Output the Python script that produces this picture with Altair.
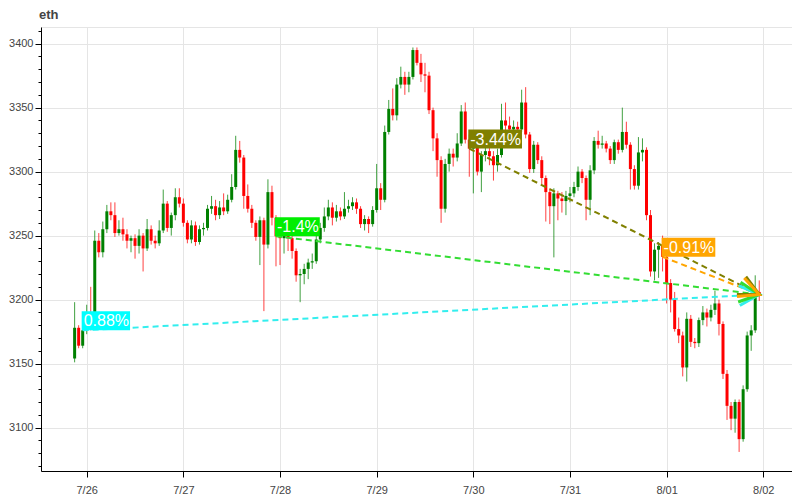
import math
import altair as alt
import pandas as pd

# ---------------- data (hourly ETH candles, 2024-07-25 21:00 .. 2024-08-01 23:00) ----------------
chart_title = ["eth"]
first_time = "2024-07-25 21:00"

opens = [3154, 3178, 3164,
         3176, 3181, 3179, 3246, 3237, 3255, 3269, 3266, 3252, 3255, 3251, 3246, 3248, 3242, 3250, 3240, 3255, 3246, 3244, 3254, 3275, 3256, 3266, 3280,
         3275, 3260, 3247, 3258, 3245, 3255, 3256, 3271, 3273, 3266, 3272, 3269, 3278, 3288, 3317, 3311, 3281, 3271, 3260, 3249, 3262, 3243, 3284, 3264,
         3249.5, 3248, 3251, 3248, 3238, 3219, 3220, 3224, 3229, 3230, 3247, 3256, 3265, 3272, 3264, 3269, 3265, 3271, 3273, 3276, 3271, 3259, 3263, 3259,
         3270, 3287, 3278, 3331, 3349, 3344, 3368, 3374, 3368, 3374, 3395, 3385, 3376, 3375, 3348, 3326, 3309, 3271, 3306, 3314, 3311, 3322, 3347, 3325,
         3318, 3322, 3300, 3313, 3316, 3312, 3305, 3313, 3340, 3336, 3333, 3335, 3333, 3354, 3329, 3302, 3321, 3309, 3295, 3284, 3273, 3283, 3279, 3277,
         3281, 3283, 3288, 3300, 3295, 3278, 3301, 3324, 3321, 3322, 3318, 3309, 3323, 3317, 3331, 3321, 3302, 3289, 3315, 3317, 3266, 3222, 3239, 3242,
         3233.4, 3213, 3200, 3177, 3172, 3147, 3185, 3167, 3166, 3184, 3190, 3186, 3192, 3197, 3181, 3142, 3117, 3107, 3120, 3091, 3130, 3172, 3176, 3206]

closes = [3178, 3164, 3176,
          3181, 3179, 3246, 3237, 3255, 3269, 3266, 3252, 3255, 3251, 3246, 3248, 3242, 3250, 3240, 3255, 3246, 3244, 3254, 3275, 3256, 3266, 3280, 3275,
          3260, 3247, 3258, 3245, 3255, 3256, 3271, 3273, 3266, 3272, 3269, 3278, 3288, 3317, 3311, 3281, 3271, 3260, 3249, 3262, 3243, 3284, 3264, 3249.5,
          3248, 3251, 3248, 3238, 3219, 3220, 3224, 3229, 3230, 3247, 3256, 3265, 3272, 3264, 3269, 3265, 3271, 3273, 3276, 3271, 3259, 3263, 3259, 3270,
          3287, 3278, 3331, 3349, 3344, 3368, 3374, 3368, 3374, 3395, 3385, 3376, 3375, 3348, 3326, 3309, 3271, 3306, 3314, 3311, 3322, 3347, 3325, 3318,
          3322, 3300, 3313, 3316, 3312, 3305, 3313, 3340, 3336, 3333, 3335, 3333, 3354, 3329, 3302, 3321, 3309, 3295, 3284, 3273, 3283, 3279, 3277, 3281,
          3283, 3288, 3300, 3295, 3278, 3301, 3324, 3321, 3322, 3318, 3309, 3323, 3317, 3331, 3321, 3302, 3289, 3315, 3317, 3266, 3222, 3239, 3242, 3233.4,
          3213, 3200, 3177, 3172, 3147, 3185, 3167, 3166, 3184, 3190, 3186, 3192, 3197, 3181, 3142, 3117, 3107, 3120, 3091, 3130, 3172, 3176, 3206, 3204]

highs = [3198, 3180, 3190,
         3196, 3210, 3254, 3252, 3261, 3274, 3276, 3276, 3262, 3264, 3255, 3250, 3251, 3255, 3252, 3263, 3258, 3250, 3262, 3286, 3277, 3268, 3287, 3287,
         3279, 3262, 3262, 3261, 3258, 3260, 3274, 3281, 3278, 3277, 3283, 3282, 3298, 3328, 3324, 3313, 3290, 3274, 3262, 3265, 3264, 3294, 3289, 3266,
         3256, 3254, 3253, 3250, 3240, 3224, 3228, 3232, 3236, 3250, 3260, 3272, 3278, 3276, 3274, 3272, 3284, 3278, 3280, 3279, 3273, 3266, 3265, 3273,
         3306, 3291, 3336, 3356, 3365, 3373, 3382, 3378, 3378, 3397, 3397, 3392, 3385, 3378, 3350, 3330, 3312, 3310, 3318, 3318, 3330, 3352, 3354, 3329,
         3328, 3324, 3316, 3322, 3320, 3316, 3318, 3353, 3354, 3343, 3340, 3339, 3364, 3366, 3331, 3324, 3323, 3312, 3297, 3287, 3287, 3285, 3284, 3285,
         3288, 3292, 3304, 3302, 3297, 3305, 3327, 3332, 3328, 3324, 3320, 3325, 3325, 3350, 3339, 3323, 3305, 3327, 3326, 3319, 3270, 3244, 3245, 3250,
         3236, 3216, 3206, 3186, 3175, 3190, 3188, 3170, 3186, 3195, 3193, 3196, 3207, 3200, 3183, 3145, 3120, 3122, 3122, 3133, 3175, 3180, 3219, 3215]

lows = [3151, 3162, 3162,
        3173, 3176, 3178, 3233, 3233, 3252, 3262, 3249, 3250, 3246, 3240, 3237, 3232, 3236, 3222, 3238, 3243, 3240, 3242, 3252, 3253, 3250, 3262, 3272,
        3257, 3244, 3244, 3242, 3243, 3250, 3254, 3267, 3262, 3263, 3266, 3267, 3276, 3286, 3307, 3271, 3268, 3256, 3246, 3227, 3191, 3240, 3258, 3226,
        3227, 3236, 3238, 3232, 3214, 3198, 3212, 3216, 3224, 3228, 3244, 3253, 3262, 3258, 3261, 3262, 3263, 3268, 3270, 3267, 3256, 3254, 3252, 3257,
        3268, 3270, 3276, 3329, 3340, 3340, 3365, 3360, 3362, 3372, 3383, 3370, 3362, 3345, 3316, 3296, 3260, 3268, 3300, 3304, 3308, 3320, 3322, 3296,
        3283, 3297, 3284, 3308, 3305, 3293, 3300, 3311, 3332, 3329, 3329, 3328, 3331, 3326, 3299, 3299, 3306, 3290, 3261, 3259, 3233, 3262, 3268, 3266,
        3276, 3280, 3285, 3291, 3262, 3266, 3298, 3318, 3318, 3315, 3306, 3306, 3314, 3315, 3318, 3286, 3286, 3286, 3308, 3262, 3218, 3215, 3217, 3222,
        3197, 3190, 3175, 3166, 3140, 3136, 3163, 3162, 3163, 3180, 3179, 3183, 3188, 3172, 3138, 3106, 3098, 3096, 3081, 3089, 3128, 3160, 3174, 3199]

# change annotations: start candle -> last candle
mark_times = ["2024-07-25 23:00", "2024-07-27 23:00", "2024-07-29 23:00", "2024-07-31 23:00"]
mark_texts = ["0.88%", "-1.4%", "-3.44%", "-0.91%"]

# ---------------- styling ----------------
mark_colors = ["#00FFFF", "#00EE00", "#808000", "#FFA500"]
line_colors = ["#33EEEE", "#33DD33", "#808000", "#FFA500"]
UP, DOWN = "#008000", "#FF0000"
FONT = "Liberation Sans"
W, H = 751, 444
x_lo_s, x_hi_s = "2024-07-25 12:39", "2024-08-02 07:08"
x_lo = alt.DateTime(year=2024, month=7, date=25, hours=12, minutes=39)
x_hi = alt.DateTime(year=2024, month=8, date=2, hours=7, minutes=8)
x_span_h = (pd.Timestamp(x_hi_s) - pd.Timestamp(x_lo_s)).total_seconds() / 3600
y_lo, y_hi = 3066.1, 3413.0

times = pd.date_range(first_time, periods=len(closes), freq="h")
df = pd.DataFrame({"t": times.strftime("%Y-%m-%dT%H:%M:%S"),
                   "open": opens, "close": closes, "high": highs, "low": lows})
df["dir"] = ["up" if c >= o else "down" for o, c in zip(opens, closes)]

end_t = times[-1]
end_v = closes[-1]
tindex = {t.strftime("%Y-%m-%d %H:%M"): i for i, t in enumerate(times)}
ann = pd.DataFrame({
    "t": [pd.Timestamp(s).strftime("%Y-%m-%dT%H:%M:%S") for s in mark_times],
    "v": [closes[tindex[s]] for s in mark_times],
    "txt": mark_texts,
    "box": mark_colors,
    "lc": line_colors,
})
ann["t2"] = end_t.strftime("%Y-%m-%dT%H:%M:%S")
ann["v2"] = end_v
# arrow head direction in screen space
pph = W / x_span_h
ppu = H / (y_hi - y_lo)
angs = []
for s, v in zip(mark_times, ann["v"]):
    dh = (end_t - pd.Timestamp(s)).total_seconds() / 3600
    dx = dh * pph
    dy = -(end_v - v) * ppu
    angs.append(math.degrees(math.atan2(dy, dx)) % 360)
ann["ang"] = angs

xscale = alt.Scale(domain=[x_lo, x_hi], padding=0, nice=False)
yscale = alt.Scale(domain=[y_lo, y_hi], zero=False, nice=False, padding=0)
day_vals = [alt.DateTime(year=2024, month=7, date=d) for d in range(26, 32)] + \
           [alt.DateTime(year=2024, month=8, date=d) for d in (1, 2)]
xaxis = alt.Axis(values=day_vals, format="%-m/%d", title=None, grid=True,
                 gridColor="#e5e5e5", domainColor="#000", tickColor="#000",
                 tickSize=6, labelPadding=7, labelFontSize=11, labelColor="#444",
                 labelFont=FONT, labelOverlap=False)
major = "datum.value % 50 === 0"
yaxis = alt.Axis(values=list(range(3070, 3411, 10)), format="d",
                 labelExpr=f"{major} ? datum.label : ''", title=None, grid=True,
                 gridColor="#e5e5e5",
                 gridOpacity={"condition": {"test": major, "value": 1}, "value": 0},
                 tickSize={"condition": {"test": major, "value": 6}, "value": 3},
                 domainColor="#000", tickColor="#000", labelPadding=2,
                 labelFontSize=11, labelColor="#444", labelFont=FONT, labelOverlap=False)

X = alt.X("t:T", scale=xscale, axis=xaxis)
color = alt.Color("dir:N", scale=alt.Scale(domain=["up", "down"], range=[UP, DOWN]), legend=None)

base = alt.Chart(df)
wicks = base.mark_rule(strokeWidth=1, opacity=0.75).encode(
    x=X, y=alt.Y("low:Q", scale=yscale, axis=yaxis), y2="high:Q", color=color)
bodies = base.mark_bar(width=3).encode(
    x=X, y=alt.Y("open:Q", scale=yscale, axis=yaxis), y2="close:Q", color=color)

abase = alt.Chart(ann)
lines = abase.mark_rule(strokeWidth=2, strokeDash=[6, 4]).encode(
    x=X, x2="t2:T", y=alt.Y("v:Q", scale=yscale, axis=yaxis), y2="v2:Q",
    color=alt.Color("lc:N", scale=None))
heads = abase.mark_point(shape="M -1 -0.5 L 0 0 L -1 0.5", filled=False, size=1600,
                         strokeWidth=3, opacity=1).encode(
    x=alt.X("t2:T", scale=xscale, axis=xaxis), y=alt.Y("v2:Q", scale=yscale, axis=yaxis),
    angle=alt.Angle("ang:Q", scale=None), color=alt.Color("lc:N", scale=None))

cw = {"-": 5.33, ".": 4.45, "%": 14.22}
layers = [wicks, bodies, lines]
for i, txt in enumerate(mark_texts):
    w = sum(cw.get(c, 8.9) for c in txt) + 3
    one = alt.Chart(ann.iloc[[i]])
    box = one.mark_rect(xOffset=-1, x2Offset=w - 1, y2Offset=-19, color=mark_colors[i]).encode(
        x=X, x2="t:T", y=alt.Y("v:Q", scale=yscale, axis=yaxis), y2="v:Q")
    lab = one.mark_text(align="left", baseline="alphabetic", dx=1, dy=-4, fontSize=16,
                        font=FONT, color="white").encode(
        x=X, y=alt.Y("v:Q", scale=yscale, axis=yaxis), text="txt:N")
    layers += [box, lab]
layers.append(heads)

title_layer = alt.Chart(pd.DataFrame({"title": chart_title})).mark_text(
    align="left", baseline="alphabetic", fontSize=13, fontWeight="bold",
    color="#444", font=FONT).encode(text="title:N", x=alt.value(-2), y=alt.value(-8))
layers.append(title_layer)

chart = alt.layer(*layers).properties(
    width=W, height=H,
    autosize=alt.AutoSizeParams(type="none"),
    padding={"left": 33, "top": 19, "right": 0, "bottom": 29},
).configure_view(stroke="#e5e5e5").configure_axis(domainWidth=1, tickWidth=1)

chart.save("out.html", embed_options={"renderer": "svg", "actions": False})
